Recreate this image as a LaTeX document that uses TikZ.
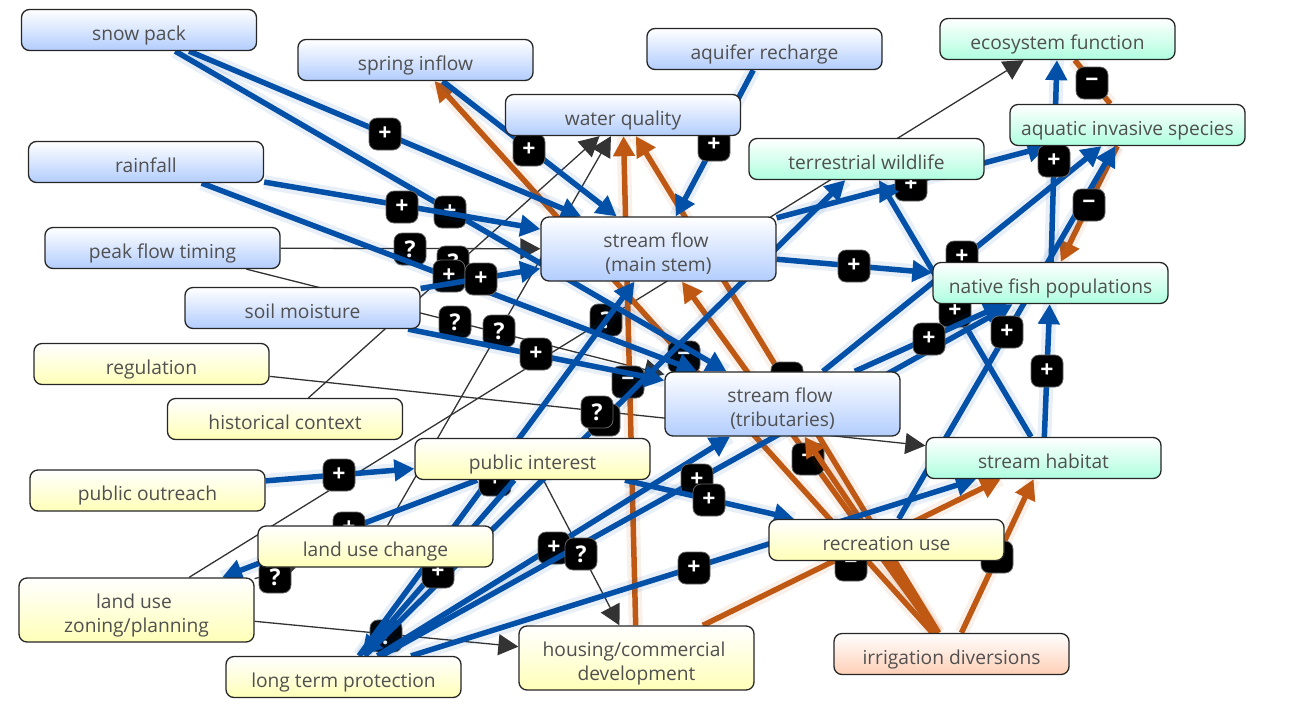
\documentclass[tikz,border=0pt]{standalone}
\usepackage{fontspec}
\setmainfont{Open Sans}
\usetikzlibrary{arrows.meta}
\pgfdeclarelayer{edges}
\pgfsetlayers{edges,main}
\definecolor{cblue}{HTML}{0350A8}
\definecolor{corange}{HTML}{BE5813}
\definecolor{cthin}{HTML}{333333}
\definecolor{txt}{HTML}{505050}
\definecolor{gblue}{HTML}{B2CDFD}
\definecolor{gyellow}{HTML}{FFFFB8}
\definecolor{ggreen}{HTML}{AEFFDF}
\definecolor{gorange}{HTML}{FFCFB6}
\tikzset{
  box/.style={draw=black!85,line width=1.3pt,rounded corners=8pt,minimum width=235pt,minimum height=41pt,inner sep=0pt,text=txt,top color=white,font=\fontsize{19.2}{24}\selectfont},
  tall/.style={minimum height=64pt},
  bluebox/.style={box,bottom color=gblue},
  yellowbox/.style={box,bottom color=gyellow},
  greenbox/.style={box,bottom color=ggreen},
  orangebox/.style={box,bottom color=gorange},
  lbl/.style={draw=black!60,line width=.8pt,fill=black,rounded corners=8pt,minimum size=32pt,inner sep=0pt,text=white,font=\fontsize{23}{23}\selectfont\bfseries},
  blueline/.style={draw=cblue,line width=5.5pt},
  bluehalo/.style={draw=cblue,line width=14pt,opacity=.09},
  orangeline/.style={draw=corange,line width=5.5pt},
  orangehalo/.style={draw=corange,line width=14pt,opacity=.09},
  thinline/.style={draw=cthin,line width=1.3pt},
}
\newcommand\ebl[2]{\path[bluehalo] (#1) -- (#2);\draw[blueline,-{Triangle[length=20pt,width=21pt]},color=cblue] (#1) -- (#2);}
\newcommand\eor[2]{\path[orangehalo] (#1) -- (#2);\draw[orangeline,-{Triangle[length=20pt,width=21pt]},color=corange] (#1) -- (#2);}
\newcommand\eth[2]{\draw[thinline,-{Triangle[length=20pt,width=21pt]},color=cthin] (#1) -- (#2);}
\newcommand\lab[4]{\node[lbl] (#1) at (#2,#3) {#4};}
\newcommand\ttx[1]{\raisebox{-10pt}[0pt][0pt]{#1}}
\newcommand\ttb[2]{\raisebox{-11pt}[0pt][0pt]{\begin{tabular}{@{}c@{}}#1\hspace*{5pt}\\#2\end{tabular}}}
\begin{document}
\begin{tikzpicture}[x=1pt,y=-1pt]
\useasboundingbox (0,0) rectangle (1291,716);
% nodes
\node[bluebox] (snow) at (139,30) {\ttx{snow pack}};
\node[bluebox] (spring) at (415.5,60) {\ttx{spring inflow}};
\node[bluebox] (aquifer) at (764.5,49) {\ttx{aquifer recharge}};
\node[bluebox] (wq) at (623,115) {\ttx{water quality}};
\node[greenbox] (eco) at (1057.5,39) {\ttx{ecosystem function}};
\node[greenbox] (aqua) at (1127.5,125) {\ttx{aquatic invasive species}};
\node[greenbox] (terr) at (866.5,159) {\ttx{terrestrial wildlife}};
\node[bluebox] (rain) at (146,162) {\ttx{rainfall}};
\node[bluebox,tall] (main) at (658.5,249) {\ttb{stream flow}{(main stem)}};
\node[bluebox] (peak) at (162.5,248) {\ttx{peak flow timing}};
\node[greenbox] (fish) at (1050.5,283) {\ttx{native fish populations}};
\node[bluebox] (soil) at (302.5,308) {\ttx{soil moisture}};
\node[yellowbox] (reg) at (151.5,364) {\ttx{regulation}};
\node[bluebox,tall] (trib) at (782.5,404) {\ttb{stream flow}{(tributaries)}};
\node[yellowbox] (hist) at (285,419) {\ttx{historical context}};
\node[yellowbox] (pub) at (532.5,459) {\ttx{public interest}};
\node[greenbox] (habitat) at (1043.5,458) {\ttx{stream habitat}};
\node[yellowbox] (outreach) at (147.5,490.5) {\ttx{public outreach}};
\node[yellowbox] (luc) at (375.5,546.5) {\ttx{land use change}};
\node[yellowbox] (rec) at (886.5,540) {\ttx{recreation use}};
\node[yellowbox,tall] (zon) at (136.5,610) {\ttb{land use}{zoning/planning}};
\node[yellowbox,tall] (house) at (636.5,658) {\ttb{housing/commercial}{development}};
\node[yellowbox] (long) at (343.5,677) {\ttx{long term protection}};
\node[orangebox] (irr) at (951.5,654) {\ttx{irrigation diversions}};
\begin{pgfonlayer}{edges}
% thin connectors
\eth{peak}{main} \lab{q1}{410}{249}{?}
\eth{hist}{wq} \lab{q2}{453}{262}{?}
\eth{peak}{trib} \lab{q3}{455}{322}{?}
\eth{luc}{wq} \lab{q4}{499}{331}{?}
\eth{zon}{eco} \lab{q5}{606}{320}{?}
\eth{zon}{luc} \lab{q6}{275}{577}{?}
\eth{zon}{house} \lab{q7}{386}{636}{?}
\eth{reg}{habitat}
\eth{pub}{house}
% orange connectors
\eor{house}{wq} \lab{m1}{628}{382}{−}
\eor{irr}{spring} \lab{m2}{684}{357}{−}
\eor{irr}{wq} \lab{m3}{787}{378}{−}
\eor{irr}{main} \lab{m4}{808}{459}{−}
\eor{irr}{trib}
\eor{house}{habitat} \lab{m5}{851}{565}{−}
\eor{irr}{habitat} \lab{m6}{997}{557}{−}
\path[orangehalo] (eco) -- (aqua); \draw[orangeline] (eco) -- (aqua); \lab{m7}{1092}{83}{−}
\eor{aqua}{fish}
% blue connectors
\ebl{long}{terr} \lab{p1}{604}{420}{+}
\ebl{long}{main} \lab{p2}{495}{480}{+}
\ebl{pub}{long} \lab{p3}{438}{572}{+}
\ebl{pub}{zon} \lab{p4}{349}{528}{+}
\ebl{long}{trib} \lab{p5}{554}{548}{+}
\ebl{long}{fish} \lab{p6}{697}{480}{+}
\ebl{pub}{rec} \lab{p7}{709}{500}{+}
\ebl{long}{habitat} \lab{p8}{694}{568}{+}
\ebl{outreach}{pub} \lab{p9}{339}{475}{+}
\ebl{spring}{main} \lab{p10}{529}{150}{+}
\ebl{aquifer}{main} \lab{p11}{714}{145}{+}
\ebl{snow}{main} \lab{p12}{385}{134}{+}
\ebl{snow}{trib} \lab{p13}{450}{212}{+}
\ebl{rain}{main} \lab{p14}{402}{207}{+}
\ebl{rain}{trib} \lab{p15}{449}{276}{+}
\ebl{soil}{main} \lab{p16}{481}{279}{+}
\ebl{soil}{trib} \lab{p17}{536}{354}{+}
\ebl{main}{fish} \lab{p18}{854}{266}{+}
\ebl{main}{aqua} \lab{p19}{911}{185}{+}
\ebl{habitat}{terr} \lab{p20}{955}{311}{+}
\ebl{trib}{aqua} \lab{p21}{962}{257}{+}
\ebl{trib}{fish} \lab{p22}{929}{339}{+}
\ebl{rec}{aqua} \lab{p23}{1007}{332}{+}
\ebl{habitat}{fish} \lab{p24}{1047}{371}{+}
\ebl{fish}{eco} \lab{p25}{1054}{161}{+}
\lab{m8}{1089}{205}{−}
\lab{q8}{597}{412}{?}
\lab{q9}{581}{554}{?}
\end{pgfonlayer}
\end{tikzpicture}
\end{document}
